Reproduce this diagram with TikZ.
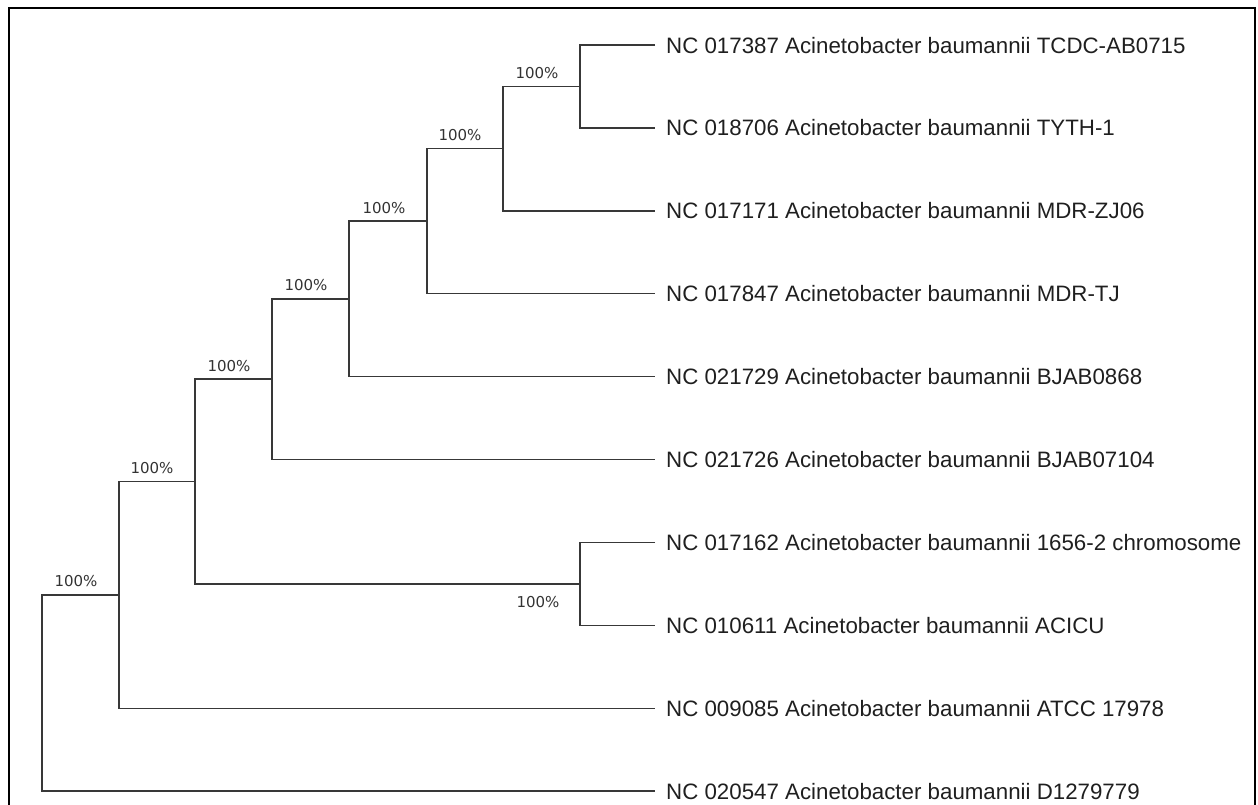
\documentclass[tikz,border=0pt]{standalone}
\usepackage{fontspec}
\setmainfont{Liberation Sans}
\newfontfamily\bootfont{DejaVu Sans}
\usetikzlibrary{calc}
\begin{document}
\begin{tikzpicture}[x=1pt,y=-1pt,
  branch/.style={draw=black!78,line width=1.4pt},
  leaf/.style={anchor=west,inner xsep=0pt,inner ysep=0pt,text height=16pt,text depth=0pt,
    font=\fontsize{22.3}{26}\selectfont,text=black!88},
  boot/.style={anchor=base,inner sep=0pt,font=\bootfont\fontsize{15}{17}\selectfont,text=black!80},
  frame/.style={draw=black,line width=2.2pt}]
\useasboundingbox (0,0) rectangle (1258,804);
% leaves
\def\d{82.9}
\foreach \i/\name/\txt in {0/l0/{NC 017387 Acinetobacter baumannii TCDC-AB0715},
  1/l1/{NC 018706 Acinetobacter baumannii TYTH-1},
  2/l2/{NC 017171 Acinetobacter baumannii MDR-ZJ06},
  3/l3/{NC 017847 Acinetobacter baumannii MDR-TJ},
  4/l4/{NC 021729 Acinetobacter baumannii BJAB0868},
  5/l5/{NC 021726 Acinetobacter baumannii BJAB07104},
  6/l6/{NC 017162 Acinetobacter baumannii 1656-2 chromosome},
  7/l7/{NC 010611 Acinetobacter baumannii ACICU},
  8/l8/{NC 009085 Acinetobacter baumannii ATCC 17978},
  9/l9/{NC 020547 Acinetobacter baumannii D1279779}}
{
  \coordinate (\name e) at (655,{45+\i*\d});
  \node[leaf] (\name) at (666,{45+\i*\d}) {\txt};
}
% internal nodes
\path let \p1=(l0e), \p2=(l1e) in coordinate (A) at (580,{(\y1+\y2)/2});
\path let \p1=(A), \p2=(l2e) in coordinate (B) at (503,{(\y1+\y2)/2});
\path let \p1=(B), \p2=(l3e) in coordinate (C) at (427,{(\y1+\y2)/2});
\path let \p1=(C), \p2=(l4e) in coordinate (D) at (349,{(\y1+\y2)/2});
\path let \p1=(D), \p2=(l5e) in coordinate (E) at (272,{(\y1+\y2)/2});
\path let \p1=(l6e), \p2=(l7e) in coordinate (G) at (580,{(\y1+\y2)/2});
\path let \p1=(E), \p2=(G) in coordinate (F) at (195,{(\y1+\y2)/2});
\path let \p1=(F), \p2=(l8e) in coordinate (H) at (119,{(\y1+\y2)/2});
\path let \p1=(H), \p2=(l9e) in coordinate (R) at (42,{(\y1+\y2)/2});
% branches
\draw[branch] (l0e) -| (A) |- (l1e);
\draw[branch] (A) -| (B) |- (l2e);
\draw[branch] (B) -| (C) |- (l3e);
\draw[branch] (C) -| (D) |- (l4e);
\draw[branch] (D) -| (E) |- (l5e);
\draw[branch] (l6e) -| (G) |- (l7e);
\draw[branch] (E) -| (F) |- (G);
\draw[branch] (F) -| (H) |- (l8e);
\draw[branch] (H) -| (R) |- (l9e);
% bootstrap labels
\node[boot] (bA) at ($(A)+(-43,-8)$) {100\%};
\node[boot] (bB) at ($(B)+(-43,-8)$) {100\%};
\node[boot] (bC) at ($(C)+(-43,-8)$) {100\%};
\node[boot] (bD) at ($(D)+(-43,-8)$) {100\%};
\node[boot] (bE) at ($(E)+(-43,-8)$) {100\%};
\node[boot] (bF) at ($(F)+(-43,-8)$) {100\%};
\node[boot] (bH) at ($(H)+(-43,-8)$) {100\%};
\node[boot] (bG) at ($(G)+(-42,24)$) {100\%};
% frame
\draw[frame] (9,810) -- (9,8) -- (1255,8) -- (1255,810);
\end{tikzpicture}
\end{document}
